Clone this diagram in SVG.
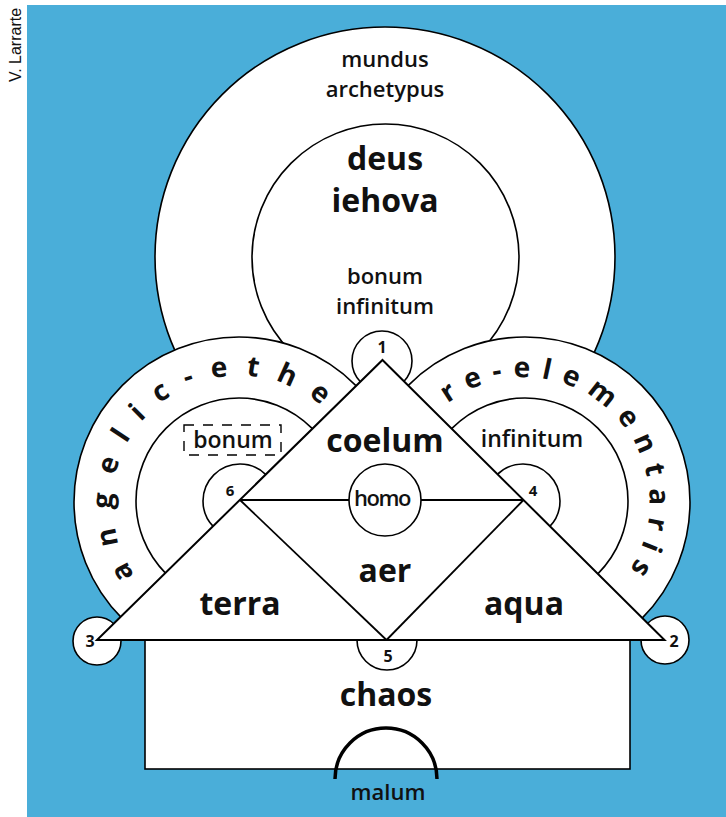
<svg xmlns="http://www.w3.org/2000/svg" width="726" height="817" viewBox="0 0 726 817">
<defs>
<style>
.s{fill:#fff;stroke:#000;stroke-width:1.6}
.t{font-family:"Open Sans","Noto Sans",sans-serif;font-weight:600;fill:#111;text-anchor:middle}
.big{font-size:32px;font-weight:700}
.mid{font-size:22px}
.num{font-size:16px;font-weight:700}
.arc{font-family:"Open Sans","Noto Sans",sans-serif;font-weight:700;font-size:28px;fill:#111}
.ln{stroke:#000;stroke-width:1.8;fill:none}
</style>
<path id="arcL" d="M134.9,575 A127,127 0 1 1 354.1,448.3"/>
<path id="arcR" d="M448,403.5 A125,125 0 1 1 587.5,610.3"/>
</defs>
<rect x="27" y="5" width="699" height="812" fill="#4aaed9"/>
<text class="t" transform="translate(21,45) rotate(-90)" style="font-family:'Liberation Sans',sans-serif;font-weight:400;font-size:16px">V. Larrarte</text>

<g id="mundus">
<circle class="s" cx="385" cy="257" r="230"/>
<text class="t mid" x="385" y="67">mundus</text>
<text class="t mid" x="385" y="97">archetypus</text>
</g>
<g id="deus">
<circle class="s" cx="385.5" cy="257.5" r="133.5"/>
<text class="t big" x="385" y="170">deus</text>
<text class="t big" x="385" y="212">iehova</text>
<text class="t mid" x="385" y="284">bonum</text>
<text class="t mid" x="385" y="314">infinitum</text>
</g>

<g id="angelic">
<circle class="s" cx="239" cy="502" r="165"/>
<circle class="s" cx="239" cy="501" r="103"/>
<text class="arc" style="letter-spacing:17.5px"><textPath href="#arcL">angelic-ethe</textPath></text>
<rect x="184" y="425" width="97" height="30" fill="none" stroke="#000" stroke-width="1.4" stroke-dasharray="10 9"/>
<text class="t" style="font-size:23px" x="233" y="448">bonum</text>
</g>
<g id="elementaris">
<circle class="s" cx="525" cy="502" r="165"/>
<circle class="s" cx="525" cy="501" r="103"/>
<text class="arc" style="letter-spacing:11px"><textPath href="#arcR">re-elementaris</textPath></text>
<text class="t" style="font-size:23px" x="532" y="447">infinitum</text>
</g>
<g id="n6">
<circle class="s" cx="240" cy="501" r="37"/>
<text class="t num" style="font-size:15px" x="230" y="496">6</text>
</g>
<g id="n4">
<circle class="s" cx="523" cy="501" r="37"/>
<text class="t num" style="font-size:15px" x="533" y="496">4</text>
</g>

<g id="chaos">
<rect class="s" x="145" y="640" width="485" height="129"/>
<text class="t big" x="386" y="706">chaos</text>
</g>
<g id="malum">
<path d="M335,779 A51,51 0 0 1 437,779" fill="none" stroke="#000" stroke-width="3.5"/>
<text class="t mid" x="388" y="800">malum</text>
</g>
<g id="n5">
<circle class="s" cx="387" cy="640" r="30"/>
<text class="t num" x="388" y="662">5</text>
</g>
<g id="n3">
<circle class="s" cx="97" cy="641" r="24"/>
<text class="t num" x="90" y="647">3</text>
</g>
<g id="n2">
<circle class="s" cx="665" cy="640" r="24"/>
<text class="t num" x="674" y="647">2</text>
</g>
<g id="n1">
<circle class="s" cx="382" cy="361" r="30"/>
<text class="t num" x="382" y="353">1</text>
</g>

<g id="triangle">
<polygon points="382.5,360 664.5,640 97,640" fill="#fff" stroke="#000" stroke-width="2"/>
</g>
<g id="connectors">
<line class="ln" x1="240" y1="500" x2="523.5" y2="500"/>
<line class="ln" x1="240" y1="500" x2="386.5" y2="640"/>
<line class="ln" x1="523.5" y1="500" x2="386.5" y2="640"/>
</g>
<g id="homo">
<circle class="s" cx="385" cy="500" r="36"/>
<text class="t" style="font-size:22px;letter-spacing:-1.5px" x="382" y="506">homo</text>
</g>
<g id="labels">
<text class="t big" x="385" y="452">coelum</text>
<text class="t big" x="385" y="582">aer</text>
<text class="t big" x="240" y="615">terra</text>
<text class="t big" x="524" y="615">aqua</text>
</g>
</svg>
